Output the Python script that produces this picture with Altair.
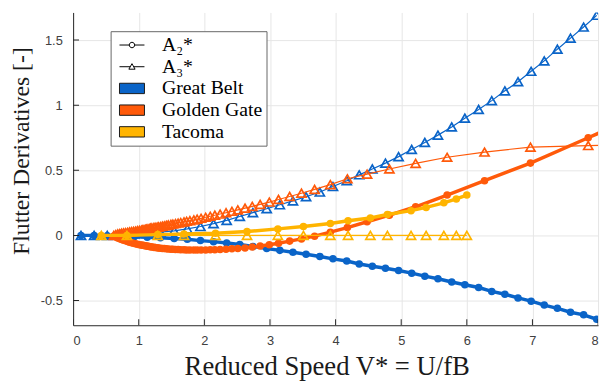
import altair as alt
import pandas as pd

# ---------------- data ----------------
gb_x = [0.12, 0.32, 0.52, 0.72, 0.93, 1.13, 1.33, 1.54, 1.74, 1.94,
        2.14, 2.34, 2.54, 2.74, 2.95, 3.15, 3.35, 3.55, 3.76, 3.96,
        4.17, 4.36, 4.56, 4.76, 4.96, 5.16, 5.36, 5.56, 5.77, 5.97,
        6.18, 6.38, 6.58, 6.78, 6.98, 7.18, 7.38, 7.58, 7.78, 7.98]
gb_a2 = [0.0, 0.0, -0.003, -0.006, -0.01, -0.014, -0.018, -0.024, -0.03, -0.04,
         -0.048, -0.058, -0.07, -0.085, -0.1, -0.115, -0.13, -0.145, -0.162, -0.18,
         -0.197, -0.22, -0.237, -0.252, -0.27, -0.29, -0.313, -0.333, -0.358, -0.379,
         -0.4, -0.43, -0.452, -0.48, -0.505, -0.535, -0.56, -0.59, -0.61, -0.644]
gb_a3 = [0.0, 0.0, 0.0, 0.005, 0.01, 0.015, 0.025, 0.035, 0.05, 0.068,
         0.09, 0.115, 0.145, 0.175, 0.205, 0.235, 0.265, 0.297, 0.333, 0.375,
         0.42, 0.465, 0.51, 0.555, 0.605, 0.66, 0.714, 0.77, 0.833, 0.9,
         0.967, 1.035, 1.11, 1.18, 1.26, 1.34, 1.43, 1.515, 1.6, 1.69]

gg_x = [0.62, 0.65, 0.68, 0.71, 0.74, 0.77, 0.80, 0.83, 0.86, 0.89,
        0.92, 0.95, 0.98, 1.01, 1.04, 1.06, 1.08, 1.10, 1.12, 1.14,
        1.16, 1.18, 1.20, 1.23, 1.25, 1.28, 1.30, 1.33, 1.36, 1.39,
        1.42, 1.45, 1.49, 1.52, 1.56, 1.60, 1.64, 1.69, 1.73, 1.78,
        1.84, 1.89, 1.95, 2.02, 2.09, 2.16, 2.24, 2.33, 2.42, 2.51,
        2.62, 2.73, 2.85, 2.99, 3.13, 3.30, 3.48, 3.68, 3.92, 4.18,
        4.48, 4.82, 5.22, 5.70, 6.27, 6.97, 7.85, 8.98]
gg_a2 = [-0.005, -0.012, -0.02, -0.026, -0.032, -0.037, -0.042, -0.047, -0.052, -0.056,
         -0.06, -0.064, -0.068, -0.071, -0.074, -0.076, -0.078, -0.08, -0.082, -0.084,
         -0.086, -0.088, -0.09, -0.092, -0.093, -0.095, -0.096, -0.098, -0.1, -0.101,
         -0.103, -0.104, -0.106, -0.107, -0.108, -0.109, -0.11, -0.111, -0.112, -0.113,
         -0.113, -0.113, -0.113, -0.112, -0.111, -0.11, -0.108, -0.106, -0.103, -0.1,
         -0.096, -0.09, -0.082, -0.072, -0.06, -0.044, -0.027, -0.006, 0.025, 0.06,
         0.105, 0.155, 0.22, 0.31, 0.42, 0.555, 0.75, 1.0]
gg_a3 = [0.0, 0.006, 0.011, 0.014, 0.017, 0.02, 0.022, 0.024, 0.027, 0.029,
         0.031, 0.033, 0.036, 0.038, 0.041, 0.043, 0.045, 0.047, 0.049, 0.051,
         0.053, 0.055, 0.057, 0.059, 0.061, 0.063, 0.065, 0.068, 0.071, 0.074,
         0.077, 0.08, 0.084, 0.087, 0.091, 0.095, 0.099, 0.104, 0.108, 0.113,
         0.119, 0.125, 0.131, 0.139, 0.147, 0.155, 0.164, 0.174, 0.185, 0.196,
         0.209, 0.223, 0.238, 0.256, 0.276, 0.299, 0.324, 0.353, 0.39, 0.435,
         0.47, 0.51, 0.553, 0.6, 0.64, 0.678, 0.69, 0.70]

tc_x = [0.43, 0.82, 1.29, 1.69, 2.17, 2.65, 3.12, 3.51, 3.92, 4.19,
        4.53, 4.79, 5.15, 5.38, 5.65, 5.84, 6.0]
tc_a2 = [0.0, 0.0, 0.006, 0.01, 0.016, 0.03, 0.05, 0.068, 0.092, 0.112,
         0.134, 0.16, 0.19, 0.215, 0.25, 0.28, 0.31]
tc_a3 = [0.0, 0.0, 0.0, 0.0, 0.0, 0.0, 0.0, 0.0, 0.0, 0.0,
         0.0, 0.0, 0.0, 0.0, 0.0, 0.0, 0.0]

x_ticks = [0, 1, 2, 3, 4, 5, 6, 7, 8]
y_ticks = [-0.5, 0, 0.5, 1, 1.5]

legend_keys = ["A₂*", "A₃*", "Great Belt", "Golden Gate", "Tacoma"]

BLUE = "#0a64c8"
ORANGE = "#ff5a0a"
YELLOW = "#ffb400"

# ---------------- encodings ----------------
x_enc = alt.X("x:Q",
              scale=alt.Scale(domain=[0, 8], nice=False, zero=False),
              axis=alt.Axis(values=x_ticks, grid=True, labelPadding=10,
                            title="Reduced Speed V* = U/fB",
                            titleFontSize=27,
                            titleX=257, titleY=42, titleBaseline="middle",
                            titleAlign="center"))
y_enc = alt.Y("y:Q",
              scale=alt.Scale(domain=[-0.69, 1.712], nice=False, zero=False),
              axis=alt.Axis(values=y_ticks, grid=True, labelPadding=11,
                            labelExpr="toString(datum.value)",
                            title="Flutter Derivatives [-]",
                            titleFontSize=24,
                            titleAngle=270, titleX=-52, titleY=140,
                            titleBaseline="middle", titleAlign="center"))


def series(xs, ys, color, kind):
    df = pd.DataFrame({"x": xs, "y": ys})
    base = alt.Chart(df)
    if kind == "a2":
        line = base.mark_line(color=color, strokeWidth=3.5, clip=True).encode(x=x_enc, y=y_enc)
        pts = base.mark_point(shape="circle", filled=True, color=color, size=58,
                              opacity=1, clip=True).encode(x=x_enc, y=y_enc)
    else:
        line = base.mark_line(color=color, strokeWidth=1.2, clip=True).encode(x=x_enc, y=y_enc)
        pts = base.mark_point(shape="triangle-up", filled=False, color=color, size=85,
                              strokeWidth=1.7, opacity=1, clip=True).encode(x=x_enc, y=y_enc)
    return [line, pts]


layers = []
layers += series(gb_x, gb_a2, BLUE, "a2")
layers += series(gb_x, gb_a3, BLUE, "a3")
layers += series(gg_x, gg_a2, ORANGE, "a2")
layers += series(gg_x, gg_a3, ORANGE, "a3")
layers += series(tc_x, tc_a2, YELLOW, "a2")
layers += series(tc_x, tc_a3, YELLOW, "a3")

# inward ticks (MATLAB style)
xt = alt.Chart(pd.DataFrame({"x": x_ticks})).mark_tick(
    color="#262626", thickness=1, size=12, opacity=1, clip=True
).encode(x=x_enc, y=alt.value("height"))
yt = alt.Chart(pd.DataFrame({"y": y_ticks})).mark_tick(
    color="#262626", thickness=1, size=12, opacity=1, clip=True
).encode(y=y_enc, x=alt.value(0))
layers += [xt, yt]

# legend (merged shape + fill + stroke legend, marks clipped away)
p_a2 = "M-1,0H0.98M2.08,0H4.06M2.08,0A0.55,0.55,0,1,1,0.98,0A0.55,0.55,0,1,1,2.08,0Z"
p_a3 = "M-1,0H1.2M1.86,0H4.06M1.53,-0.62L2.16,0.5L0.9,0.5Z"
p_rect = "M-1,-1.05H4.06V1.05H-1Z"
legend_shapes = [p_a2, p_a3, p_rect, p_rect, p_rect]
legend_fills = ["white", "white", BLUE, ORANGE, YELLOW]
legend_strokes = ["black", "black", "#1a1a1a", "#1a1a1a", "#1a1a1a"]

leg = alt.Legend(title=None, orient="none", legendX=38, legendY=19,
                 padding=4, rowPadding=2, labelFont="Liberation Serif",
                 labelFontSize=20, labelColor="black", labelOffset=28,
                 strokeColor="#666666", fillColor="white",
                 symbolStrokeWidth=1)
leg_df = pd.DataFrame({"x": [-1.0] * 5, "y": [0.0] * 5, "key": legend_keys})
legend_layer = alt.Chart(leg_df).mark_point(
    filled=True, size=289, strokeWidth=1, opacity=1, clip=True
).encode(
    x=x_enc, y=y_enc,
    shape=alt.Shape("key:N", scale=alt.Scale(domain=legend_keys, range=legend_shapes), legend=leg),
    fill=alt.Fill("key:N", scale=alt.Scale(domain=legend_keys, range=legend_fills), legend=leg),
    stroke=alt.Stroke("key:N", scale=alt.Scale(domain=legend_keys, range=legend_strokes), legend=leg),
)
layers.append(legend_layer)

chart = alt.layer(*layers).properties(
    width=532, height=317,
    autosize=alt.AutoSizeParams(type="none"),
    padding={"left": 66, "top": 2, "right": 4, "bottom": 55},
).configure_view(strokeWidth=0).configure_axis(
    gridColor="#e6e6e6", gridWidth=1,
    domainColor="#262626", domainWidth=1,
    ticks=False,
    labelFont="Liberation Sans", labelFontSize=13, labelColor="#404040",
    titleFont="Liberation Serif", titleFontWeight="normal",
    titleColor="#1a1a1a",
)

chart.save("out.html", embed_options={"renderer": "svg", "actions": False})
